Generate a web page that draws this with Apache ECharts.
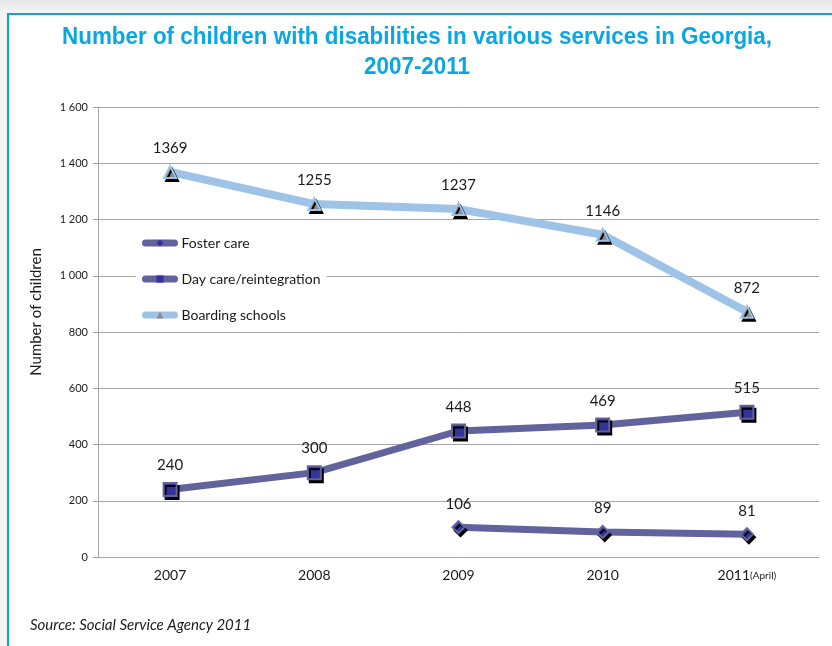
<!DOCTYPE html>
<html>
<head>
<meta charset="utf-8">
<script src="https://cdn.jsdelivr.net/npm/echarts@6/dist/echarts.min.js"></script>
<style>
  html, body { margin: 0; padding: 0; width: 832px; height: 646px; overflow: hidden;
    background: linear-gradient(#e6e6e6, #f4f4f4 12px, #f4f4f4); }
  #frame { position: absolute; left: 7px; top: 13px; width: 900px; height: 700px;
    background: #fff; border-left: 2px solid #0aa3e0; border-top: 2px solid #0aa3e0; }
  #chart { position: absolute; left: 0; top: 0; width: 832px; height: 646px; }
</style>
</head>
<body>
<div id="frame"></div>
<div id="chart"></div>
<script>
// Children with disabilities by type of service, Georgia
const years = ['2007', '2008', '2009', '2010', '2011'];
const yearNotes = ['', '', '', '', '(April)'];
const fosterCare = [null, null, 106, 89, 81];
const dayCare = [240, 300, 448, 469, 515];
const boardingSchools = [1369, 1255, 1237, 1146, 872];
const seriesNames = ['Foster care', 'Day care/reintegration', 'Boarding schools'];
const titleLines = ['Number of children with disabilities in various services in Georgia,', '2007-2011'];
const sourceNote = 'Source: Social Service Agency 2011';

const titleColor = '#0aa6e4';
const purple = '#62639d';
const lightBlue = '#9dc3e6';
const bodyFont = 'Lato, "Open Sans", sans-serif';

// Condensed bold title: measure the first line and squeeze it to its width
const titleFont = 'bold 24px "Liberation Sans", Arial, sans-serif';
const ctx = document.createElement('canvas').getContext('2d');
ctx.font = titleFont;
const line1Width = ctx.measureText(titleLines[0]).width;
const squeeze = 710 / line1Width;

function thousands(v) {
  if (v >= 1000) return Math.floor(v / 1000) + ' ' + String(v % 1000).padStart(3, '0');
  return String(v);
}

const markerShadow = { shadowColor: '#000', shadowOffsetX: 2, shadowOffsetY: 3, shadowBlur: 0 };
const valueLabel = { show: true, position: 'top', distance: 9, fontSize: 15,
  color: '#1a1a1a', fontFamily: bodyFont };

const chart = echarts.init(document.getElementById('chart'), null, { renderer: 'canvas' });
chart.setOption({
  animation: false,
  textStyle: { fontFamily: bodyFont },
  graphic: [
    { type: 'text', x: 417, y: 37, scaleX: squeeze, originX: 0, z: 10,
      style: { text: titleLines[0], font: titleFont, fill: titleColor, align: 'center', verticalAlign: 'middle' } },
    { type: 'text', x: 417, y: 67, scaleX: squeeze, originX: 0, z: 10,
      style: { text: titleLines[1], font: titleFont, fill: titleColor, align: 'center', verticalAlign: 'middle' } },
    { type: 'text', x: 36, y: 312, rotation: Math.PI / 2, z: 10,
      style: { text: 'Number of children', font: '15px ' + bodyFont, fill: '#1a1a1a', align: 'center', verticalAlign: 'middle' } },
    { type: 'text', x: 30, y: 625, z: 10,
      style: { text: sourceNote, font: 'italic 15px ' + bodyFont, fill: '#1a1a1a', align: 'left', verticalAlign: 'middle' } }
  ],
  grid: { left: 98, right: 13, top: 107, bottom: 89, containLabel: false },
  legend: {
    data: seriesNames,
    orient: 'vertical', left: 136, top: 231,
    itemWidth: 29, itemHeight: 9, itemGap: 22,
    backgroundColor: '#fff', padding: [5, 6, 5, 6],
    textStyle: { fontSize: 14, color: '#1a1a1a', fontFamily: bodyFont, padding: [0, 0, 0, 2] },
    lineStyle: { width: 7, cap: 'round' },
    itemStyle: { shadowColor: 'transparent', shadowOffsetX: 0, shadowOffsetY: 0, borderWidth: 0 }
  },
  xAxis: {
    type: 'category', data: years, boundaryGap: true,
    axisLine: { lineStyle: { color: '#a6a6a6', width: 1 } },
    axisTick: { show: false },
    axisLabel: {
      margin: 11, fontSize: 14, color: '#1a1a1a',
      formatter: (v, i) => yearNotes[i] ? v + '{note|' + yearNotes[i] + '}' : v,
      rich: { note: { fontSize: 10, color: '#1a1a1a', verticalAlign: 'bottom', padding: [0, 0, 1, 0] } }
    }
  },
  yAxis: {
    type: 'value', min: 0, max: 1600, interval: 200,
    axisLine: { show: true, lineStyle: { color: '#a6a6a6' } },
    axisTick: { show: true, length: 5, lineStyle: { color: '#a6a6a6' } },
    splitLine: { lineStyle: { color: '#a6a6a6', width: 1 } },
    axisLabel: { fontSize: 11, color: '#1a1a1a', margin: 10, formatter: thousands }
  },
  series: [
    {
      name: seriesNames[0], type: 'line', data: fosterCare, z: 3,
      symbol: 'diamond', symbolSize: 12,
      lineStyle: { color: purple, width: 7 },
      itemStyle: Object.assign({ color: '#333399', borderColor: purple, borderWidth: 2 }, markerShadow),
      label: valueLabel
    },
    {
      name: seriesNames[1], type: 'line', data: dayCare, z: 3,
      symbol: 'rect', symbolSize: 13,
      lineStyle: { color: purple, width: 7 },
      itemStyle: Object.assign({ color: '#333399', borderColor: purple, borderWidth: 2 }, markerShadow),
      label: valueLabel
    },
    {
      name: seriesNames[2], type: 'line', data: boardingSchools, z: 3,
      symbol: 'triangle', symbolSize: 12,
      lineStyle: { color: lightBlue, width: 8 },
      itemStyle: Object.assign({ color: '#8c8c8c', borderColor: lightBlue, borderWidth: 2 }, markerShadow),
      label: valueLabel
    }
  ]
});
</script>
</body>
</html>
